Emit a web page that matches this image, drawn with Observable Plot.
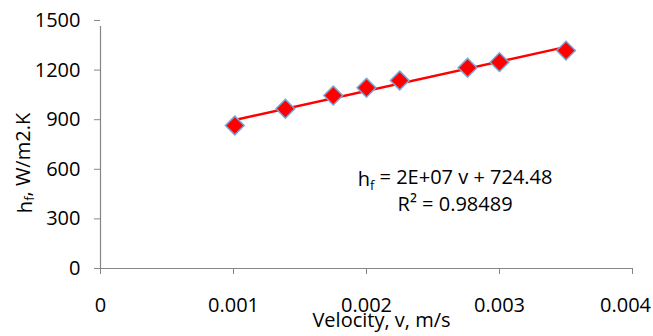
<!DOCTYPE html>
<html>
<head>
<meta charset="utf-8">
<script src="https://cdn.jsdelivr.net/npm/d3@7"></script>
<script src="https://cdn.jsdelivr.net/npm/@observablehq/plot@0.6"></script>
<style>
  html, body { margin: 0; padding: 0; background: #fff; }
  #chart svg { display: block; }
</style>
</head>
<body>
<div id="chart"></div>
<script>
// Data
const velocity = [0.00101, 0.00139, 0.00175, 0.00200, 0.00225, 0.00276, 0.00300, 0.00350];
const hf = [865, 966, 1046, 1093, 1137, 1214, 1248, 1318];
const xTicks = [0, 0.001, 0.002, 0.003, 0.004];
const yTicks = [0, 300, 600, 900, 1200, 1500];
const xTitle = "Velocity, v, m/s";
const yTitleMain = "h";
const yTitleSub = "f";
const yTitleRest = ", W/m2.K";
const eqLine1 = ["h", "f", " = 2E+07 v + 724.48"];
const eqLine2 = "R² = 0.98489";
const eqPos = { x: 0.00267, y1: 496, y2: 347 };

const data = velocity.map((v, i) => ({ v, hf: hf[i] }));
const font = "'Open Sans', sans-serif";
const axisGray = "#868686";
const fmt = d => String(+d.toFixed(3));
const lastTick = xTicks[xTicks.length - 1];

const chart = Plot.plot({
  width: 653,
  height: 336,
  marginLeft: 100,
  marginRight: 21,
  marginTop: 20,
  marginBottom: 68,
  style: { fontFamily: font, fontSize: "20px", color: "#000", background: "#fff", overflow: "visible" },
  x: { domain: [0, 0.004] },
  y: { domain: [0, 1500] },
  marks: [
    Plot.ruleY([0], { stroke: axisGray, strokeWidth: 1.2 }),
    Plot.ruleX([0], { stroke: axisGray, strokeWidth: 1.2, y1: 0, y2: 1500, insetBottom: -6 }),
    Plot.axisX(xTicks, {
      tickSize: 6, tickPadding: 23, stroke: axisGray, fill: "#000",
      tickFormat: d => d === lastTick ? "" : fmt(d), label: null, fontSize: 20
    }),
    Plot.axisX([lastTick], {
      tickSize: 0, tickPadding: 29, stroke: "none", fill: "#000", dx: -7,
      tickFormat: fmt, label: null, fontSize: 20
    }),
    Plot.axisY(yTicks, {
      tickSize: 6, tickPadding: 14, stroke: axisGray, fill: "#000",
      tickFormat: d => String(d), label: null, fontSize: 20
    }),
    Plot.linearRegressionY(data, { x: "v", y: "hf", stroke: "#ff0000", strokeWidth: 2.5, ci: 0 }),
    Plot.dot(data, {
      x: "v", y: "hf", symbol: "square", rotate: 45, r: 7.5,
      fill: "#ff0000", stroke: "#7aa6d6", strokeWidth: 1.5
    }),
    Plot.text([xTitle], { frameAnchor: "bottom", dy: 58, dx: 15, fontSize: 20, fill: "#000" })
  ]
});

document.getElementById("chart").appendChild(chart);

// Texts needing sub/superscripts
const svg = d3.select(chart);
const sx = chart.scale("x"), sy = chart.scale("y");

const yT = svg.append("text")
  .attr("transform", `translate(27,163) rotate(-90)`)
  .attr("text-anchor", "middle").attr("dominant-baseline", "middle")
  .style("font-family", font).style("font-size", "20px").attr("fill", "#000");
yT.append("tspan").text(yTitleMain);
yT.append("tspan").attr("dy", "0.3em").style("font-size", "13px").text(yTitleSub);
yT.append("tspan").attr("dy", "-0.3em").text(yTitleRest);

const e1 = svg.append("text")
  .attr("x", sx.apply(eqPos.x)).attr("y", sy.apply(eqPos.y1))
  .attr("text-anchor", "middle")
  .style("font-family", font).style("font-size", "20px").attr("fill", "#000");
e1.append("tspan").text(eqLine1[0]);
e1.append("tspan").attr("dy", "0.3em").style("font-size", "13px").text(eqLine1[1]);
e1.append("tspan").attr("dy", "-0.3em").text(eqLine1[2]);

svg.append("text")
  .attr("x", sx.apply(eqPos.x)).attr("y", sy.apply(eqPos.y2))
  .attr("text-anchor", "middle")
  .style("font-family", font).style("font-size", "20px").attr("fill", "#000")
  .text(eqLine2);
</script>
</body>
</html>
